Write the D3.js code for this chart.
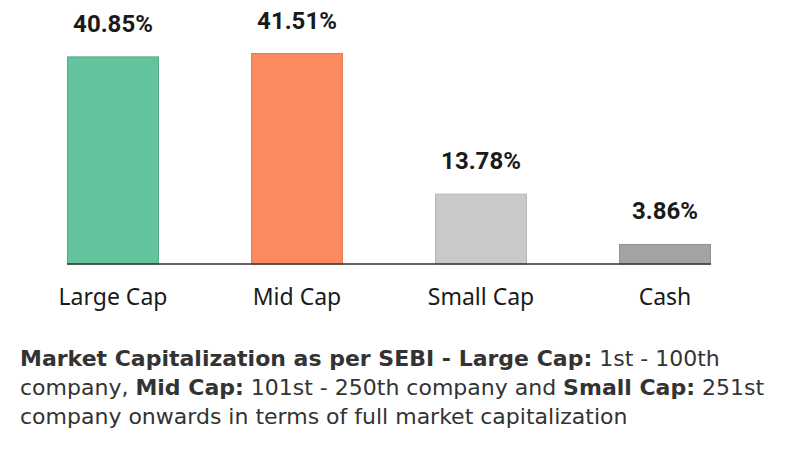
<!DOCTYPE html>
<html>
<head>
<meta charset="utf-8">
<script src="https://cdn.jsdelivr.net/npm/d3@7"></script>
<style>
  body { margin: 0; background: #fff; }
  svg { display: block; }
</style>
</head>
<body>
<svg id="chart" width="798" height="456"></svg>
<script>
// chart data
const categories = ["Large Cap", "Mid Cap", "Small Cap", "Cash"];
const values = [40.85, 41.51, 13.78, 3.86];
const colors = ["#63c39d", "#fb8a5e", "#c9c9c9", "#a3a3a3"];
const strokes = ["#5aa88a", "#e07c55", "#b5b5b5", "#929292"];

const footLines = [
  [["Market Capitalization as per SEBI - Large Cap:", true], [" 1st - 100th", false]],
  [["company, ", false], ["Mid Cap:", true], [" 101st - 250th company and ", false], ["Small Cap:", true], [" 251st", false]],
  [["company onwards in terms of full market capitalization", false]]
];

var svg = d3.select("#chart"),
  baseY = 264;

var x = d3.scaleBand()
  .domain(categories)
  .range([67, 711])
  .paddingInner(0.5)
  .paddingOuter(0);

var y = d3.scaleLinear()
  .domain([0, 10])
  .range([baseY, baseY - 50.7]);

var data = categories.map((c, i) => ({ cat: c, val: values[i], i: i }));

svg.selectAll(".bar")
  .data(data)
  .enter()
  .append("rect")
  .attr("class", "bar")
  .attr("x", d => x(d.cat) + 0.5)
  .attr("y", d => y(d.val))
  .attr("width", x.bandwidth() - 1)
  .attr("height", d => baseY - y(d.val))
  .attr("fill", d => colors[d.i])
  .attr("stroke", d => strokes[d.i])
  .attr("stroke-width", 1);

// baseline
svg.append("line")
  .attr("x1", x.range()[0])
  .attr("x2", x.range()[1])
  .attr("y1", baseY)
  .attr("y2", baseY)
  .attr("stroke", "#333")
  .attr("stroke-width", 1.6);

// value labels
svg.selectAll(".val")
  .data(data)
  .enter()
  .append("text")
  .attr("class", "val")
  .attr("x", d => x(d.cat) + x.bandwidth() / 2)
  .attr("y", d => y(d.val) - 25)
  .attr("text-anchor", "middle")
  .style("font-family", "Roboto, sans-serif")
  .style("font-weight", "bold")
  .style("font-size", "24px")
  .style("fill", "#1a1a1a")
  .text(d => d.val.toFixed(2) + "%");

// category labels
svg.selectAll(".cat")
  .data(data)
  .enter()
  .append("text")
  .attr("class", "cat")
  .attr("x", d => x(d.cat) + x.bandwidth() / 2)
  .attr("y", 305)
  .attr("text-anchor", "middle")
  .style("font-family", "'Noto Sans', sans-serif")
  .style("font-size", "23px")
  .style("fill", "#1a1a1a")
  .text(d => d.cat);

// footnote
var foot = svg.append("g");
footLines.forEach((line, li) => {
  var t = foot.append("text")
    .attr("x", 20)
    .attr("y", 366 + li * 29)
    .style("font-family", "'DejaVu Sans', sans-serif")
    .style("font-size", "22px")
    .style("fill", "#333");
  line.forEach(seg => {
    t.append("tspan")
      .style("font-weight", seg[1] ? "bold" : "normal")
      .style("white-space", "pre")
      .text(seg[0]);
  });
});
</script>
</body>
</html>
